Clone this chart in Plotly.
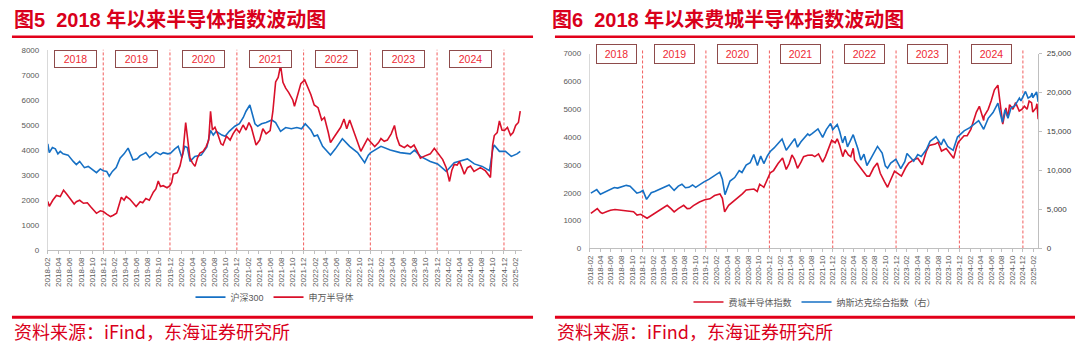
import plotly.graph_objects as go
import datetime as _dt

# ---------------- data ----------------
hs300_dates = ["2018-02-01","2018-02-09","2018-02-26","2018-03-14","2018-03-28","2018-04-10","2018-04-25","2018-05-23","2018-06-20","2018-07-07","2018-07-25","2018-08-03","2018-08-20","2018-09-10","2018-09-28","2018-10-12","2018-10-25","2018-11-15","2018-12-01","2018-12-20","2019-01-03","2019-01-20","2019-02-10","2019-03-03","2019-03-25","2019-04-16","2019-05-13","2019-06-05","2019-06-21","2019-07-10","2019-07-22","2019-08-12","2019-09-15","2019-10-10","2019-10-25","2019-11-20","2019-12-05","2019-12-28","2020-01-15","2020-02-04","2020-02-20","2020-03-05","2020-03-20","2020-04-15","2020-05-20","2020-06-20","2020-07-10","2020-07-25","2020-08-10","2020-09-10","2020-09-28","2020-10-20","2020-11-20","2020-12-15","2021-01-05","2021-01-20","2021-02-10","2021-03-10","2021-03-25","2021-04-15","2021-05-10","2021-06-10","2021-07-01","2021-07-28","2021-08-25","2021-09-25","2021-10-25","2021-11-20","2021-12-10","2022-01-10","2022-01-28","2022-02-15","2022-03-15","2022-04-27","2022-05-24","2022-07-01","2022-08-10","2022-09-22","2022-10-31","2022-11-20","2022-12-03","2023-01-28","2023-03-20","2023-05-13","2023-07-07","2023-07-31","2023-09-01","2023-10-25","2023-12-04","2024-01-20","2024-03-04","2024-05-15","2024-06-22","2024-08-04","2024-09-13","2024-09-30","2024-10-08","2024-11-06","2024-12-09","2025-01-10","2025-02-10","2025-02-28"]
hs300_vals = [4250,3900,4100,4050,3850,3950,3850,3800,3550,3420,3550,3450,3300,3350,3250,3150,3100,3250,3180,3150,2960,3150,3300,3680,3850,4080,3600,3650,3780,3850,3900,3700,3920,3820,3900,3850,3880,4050,4150,3700,4150,4100,3550,3750,3800,4130,4780,4600,4750,4600,4550,4750,4950,5050,5300,5550,5800,5050,4950,5050,5100,5200,5100,4750,4900,4850,4900,4850,5050,4800,4550,4600,4150,3800,4050,4450,4150,3900,3500,3800,3900,4150,4000,3900,3850,4000,3750,3550,3450,3150,3500,3650,3450,3350,3180,4000,4200,3950,3950,3750,3850,3950]

swsemi_dates = ["2018-02-01","2018-02-09","2018-02-28","2018-03-20","2018-04-10","2018-04-28","2018-05-15","2018-06-04","2018-06-25","2018-07-07","2018-07-25","2018-08-15","2018-09-05","2018-09-22","2018-10-12","2018-10-25","2018-11-15","2018-12-01","2018-12-20","2019-01-10","2019-01-25","2019-02-12","2019-02-25","2019-03-10","2019-03-25","2019-04-06","2019-04-25","2019-05-13","2019-05-30","2019-06-21","2019-07-05","2019-07-22","2019-08-10","2019-09-01","2019-09-15","2019-09-28","2019-10-10","2019-10-25","2019-11-15","2019-12-01","2019-12-10","2019-12-19","2020-01-10","2020-01-25","2020-02-10","2020-02-25","2020-03-05","2020-03-19","2020-04-01","2020-04-16","2020-04-30","2020-05-13","2020-05-30","2020-06-16","2020-06-30","2020-07-10","2020-07-20","2020-08-03","2020-08-20","2020-09-05","2020-09-16","2020-10-05","2020-10-25","2020-11-10","2020-11-28","2020-12-15","2021-01-04","2021-01-20","2021-02-05","2021-02-18","2021-03-05","2021-03-16","2021-04-05","2021-04-22","2021-05-10","2021-06-01","2021-06-16","2021-07-01","2021-07-15","2021-07-28","2021-08-10","2021-08-25","2021-09-10","2021-10-03","2021-10-12","2021-10-25","2021-11-16","2021-12-07","2021-12-25","2022-01-10","2022-01-28","2022-02-18","2022-03-10","2022-03-25","2022-04-15","2022-04-27","2022-05-18","2022-06-05","2022-06-22","2022-07-10","2022-07-25","2022-08-10","2022-08-25","2022-09-06","2022-09-25","2022-10-10","2022-10-28","2022-11-16","2022-12-05","2022-12-25","2023-01-15","2023-01-28","2023-02-15","2023-03-04","2023-03-25","2023-04-12","2023-04-25","2023-05-10","2023-06-05","2023-06-22","2023-07-10","2023-07-28","2023-08-15","2023-09-01","2023-09-20","2023-10-10","2023-10-25","2023-11-16","2023-12-05","2024-01-01","2024-01-20","2024-02-07","2024-02-20","2024-03-04","2024-03-20","2024-04-01","2024-04-15","2024-04-28","2024-05-15","2024-06-01","2024-06-20","2024-07-07","2024-07-25","2024-08-22","2024-09-05","2024-09-18","2024-09-30","2024-10-09","2024-10-25","2024-11-06","2024-11-20","2024-12-03","2024-12-20","2025-01-06","2025-01-20","2025-02-03","2025-02-18","2025-02-28"]
swsemi_vals = [1950,1760,2000,2190,2150,2400,2250,2070,1850,1940,2000,1880,1900,1750,1600,1480,1580,1550,1450,1350,1400,1480,1800,2120,2000,2150,2050,1880,1750,1940,1900,2070,2000,2320,2450,2770,2550,2580,2500,2580,2700,3040,3100,3370,3900,5100,4500,3700,3500,3350,3700,3880,3950,4140,4400,5550,4800,4910,4600,4250,4200,4550,4400,4650,4850,4700,5000,4800,5100,4910,4500,4200,4400,4850,4650,4780,5550,6720,6900,7380,6700,6470,6300,6000,5750,6100,6650,6800,6500,6210,5800,5690,5200,5300,4700,4300,4530,4700,4910,5240,4850,5200,4900,4660,4200,3950,4200,4460,4300,4140,4300,4460,4350,4400,4650,4980,4500,4200,4100,4200,4100,4200,3950,3680,3750,3800,3850,4070,3900,3620,3300,2750,3200,3430,3400,3550,3300,3040,3300,3360,3150,3230,3300,3170,3050,2910,4200,4580,4700,5160,4800,4780,4900,4590,4700,4980,5100,5550]

sox_dates = ["2018-02-06","2018-02-20","2018-03-15","2018-04-02","2018-04-13","2018-05-10","2018-05-30","2018-06-25","2018-07-25","2018-08-20","2018-09-22","2018-10-10","2018-10-30","2018-11-20","2018-12-27","2019-01-20","2019-02-25","2019-03-25","2019-04-22","2019-05-15","2019-06-01","2019-06-25","2019-07-26","2019-08-15","2019-08-30","2019-09-20","2019-10-25","2019-11-25","2019-12-24","2020-01-20","2020-02-20","2020-03-05","2020-03-18","2020-04-10","2020-05-05","2020-06-05","2020-06-28","2020-07-20","2020-08-15","2020-09-03","2020-09-22","2020-10-06","2020-10-30","2020-11-20","2020-12-06","2020-12-25","2021-01-20","2021-02-15","2021-03-08","2021-03-25","2021-04-10","2021-04-25","2021-05-12","2021-06-01","2021-06-16","2021-07-10","2021-08-04","2021-08-20","2021-09-10","2021-10-04","2021-10-20","2021-11-25","2021-12-15","2021-12-27","2022-01-10","2022-01-28","2022-02-10","2022-03-01","2022-03-15","2022-03-29","2022-04-06","2022-05-10","2022-05-25","2022-06-16","2022-07-01","2022-07-25","2022-08-15","2022-09-01","2022-09-25","2022-10-13","2022-10-30","2022-11-22","2022-12-10","2023-01-01","2023-01-25","2023-02-12","2023-03-16","2023-04-05","2023-05-01","2023-05-25","2023-06-10","2023-07-15","2023-07-31","2023-08-20","2023-09-16","2023-10-29","2023-11-15","2023-11-25","2023-12-28","2024-01-15","2024-02-05","2024-03-08","2024-03-25","2024-04-19","2024-04-22","2024-05-15","2024-06-01","2024-06-20","2024-07-10","2024-07-25","2024-08-07","2024-08-25","2024-09-06","2024-09-15","2024-10-05","2024-10-20","2024-11-10","2024-11-25","2024-12-10","2024-12-25","2025-01-06","2025-01-20","2025-01-27","2025-02-15","2025-02-20","2025-02-27"]
sox_vals = [1260,1330,1435,1300,1260,1330,1375,1400,1375,1380,1340,1320,1200,1230,1085,1180,1315,1420,1550,1420,1315,1430,1550,1430,1435,1540,1670,1750,1785,1900,1960,1800,1315,1550,1670,1850,1960,2100,2130,2135,2050,2310,2200,2500,2720,2800,3050,3250,2840,3050,3360,3200,2880,3100,3300,3350,3360,3300,3400,3100,3300,3885,3800,3940,3700,3300,3550,3360,3300,3600,3180,2900,2775,2600,2600,2900,3070,2700,2400,2200,2450,2775,2700,2600,2900,3070,3200,3240,3010,3500,3700,3750,3820,3500,3590,3240,3650,3820,4050,4050,4280,4900,5110,4600,4760,5000,5300,5700,5870,5000,4470,5050,4700,5170,5000,5240,4940,5000,5110,5000,5300,5240,4900,5060,5200,4650]

nasdaq_dates = ["2018-02-06","2018-02-25","2018-03-12","2018-04-02","2018-04-20","2018-05-12","2018-06-21","2018-07-10","2018-07-25","2018-08-29","2018-09-20","2018-10-15","2018-10-29","2018-11-19","2018-12-03","2018-12-24","2019-01-20","2019-02-09","2019-03-10","2019-04-05","2019-05-03","2019-06-01","2019-06-25","2019-07-16","2019-08-05","2019-08-25","2019-09-15","2019-10-03","2019-10-25","2019-11-20","2019-12-20","2020-01-20","2020-02-19","2020-03-05","2020-03-20","2020-04-18","2020-05-15","2020-06-10","2020-06-26","2020-07-20","2020-08-12","2020-09-02","2020-09-23","2020-10-12","2020-10-30","2020-11-20","2020-12-06","2020-12-28","2021-01-20","2021-02-12","2021-03-08","2021-03-25","2021-04-26","2021-05-12","2021-06-01","2021-07-10","2021-07-20","2021-08-04","2021-09-07","2021-10-04","2021-10-25","2021-11-19","2021-12-01","2021-12-27","2022-01-10","2022-01-27","2022-02-10","2022-02-24","2022-03-29","2022-04-25","2022-05-12","2022-05-30","2022-06-16","2022-07-10","2022-08-16","2022-09-12","2022-09-30","2022-10-13","2022-10-31","2022-11-30","2022-12-28","2023-01-20","2023-02-02","2023-03-13","2023-04-05","2023-04-25","2023-05-25","2023-06-15","2023-07-19","2023-08-18","2023-09-01","2023-09-26","2023-10-26","2023-11-20","2023-12-28","2024-01-30","2024-02-25","2024-03-21","2024-04-19","2024-05-15","2024-06-12","2024-07-10","2024-07-25","2024-08-05","2024-08-20","2024-09-06","2024-09-24","2024-10-15","2024-11-11","2024-11-20","2024-12-16","2024-12-31","2025-01-15","2025-01-23","2025-01-27","2025-02-18","2025-02-27"]
nasdaq_vals = [7100,7300,7550,6950,7150,7420,7830,7750,7850,8100,8000,7420,7100,7250,7450,6300,7150,7300,7600,7920,8150,7450,8000,8250,7800,7850,8150,7850,8200,8550,8900,9350,9800,8900,6900,8650,9100,10000,9750,10700,11000,12050,10650,11850,10900,11900,12450,12900,13450,14050,12600,13100,14100,13000,13700,14700,14500,14750,15350,14250,15250,16050,15250,15900,15000,13550,14400,13050,14600,12800,11350,12100,10650,11600,13100,12250,10600,10300,10950,11450,10250,11150,12200,11200,12050,11800,12700,13750,14350,13300,14050,13050,12600,14300,15100,15500,16000,16400,15300,16700,17450,18650,17200,16200,17800,16700,18050,18300,19300,18950,20150,19300,19500,19950,19350,20100,18800]

years = [2018, 2019, 2020, 2021, 2022, 2023, 2024]
left_title = "图5  2018 年以来半导体指数波动图"
right_title = "图6  2018 年以来费城半导体指数波动图"
source_text = "资料来源：iFind，东海证券研究所"

# ---------------- styling ----------------
W, H = 1080, 346
BLUE = "#1670c4"
RED = "#d9102a"
TXT_RED = "#d9001b"
RULE_RED = "#e2001a"
GRAY = "#595959"
DASH_RED = "#f25c5c"
BOX_BORDER = "#8e4b4b"
BOX_TEXT = "#ee2a33"
FONT = "Liberation Sans, Arial, Noto Sans CJK SC, sans-serif"
CJK = "Noto Sans CJK SC, sans-serif"

def px_x(p):
    return p / W

def px_y(p):
    return (H - p) / H

L_DOM = [px_x(44), px_x(520)]
L_Y = [px_y(253), px_y(47)]
R_DOM = [px_x(588), px_x(1038)]
R_Y = [px_y(251), px_y(51)]
L_RANGE = ["2018-02-01", "2025-03-10"]
R_RANGE = ["2018-01-31", "2025-02-27"]

fig = go.Figure()
fig.add_trace(go.Scatter(x=hs300_dates, y=hs300_vals, name="沪深300", mode="lines",
                         line=dict(color=BLUE, width=1.6), xaxis="x", yaxis="y", legend="legend"))
fig.add_trace(go.Scatter(x=swsemi_dates, y=swsemi_vals, name="申万半导体", mode="lines",
                         line=dict(color=RED, width=1.6), xaxis="x", yaxis="y", legend="legend"))
fig.add_trace(go.Scatter(x=sox_dates, y=sox_vals, name="费城半导体指数", mode="lines",
                         line=dict(color=RED, width=1.6), xaxis="x2", yaxis="y2", legend="legend2"))
fig.add_trace(go.Scatter(x=nasdaq_dates, y=nasdaq_vals, name="纳斯达克综合指数（右）", mode="lines",
                         line=dict(color=BLUE, width=1.6), xaxis="x2", yaxis="y3", legend="legend2"))

xcommon = dict(type="date", tick0="2018-02-01", dtick="M2", tickformat="%Y-%m", tickangle=-90,
               tickfont=dict(size=8, color=GRAY, family=FONT), showline=True, linecolor="#bfbfbf",
               linewidth=1, ticks="outside", ticklen=3, tickcolor="#bfbfbf", showgrid=False,
               zeroline=False, fixedrange=True)
ycommon = dict(tickfont=dict(size=8, color=GRAY, family=FONT), showline=True, linecolor="#d9d9d9",
               linewidth=1, showgrid=False, zeroline=False, ticks="", ticklabelstandoff=6,
               fixedrange=True)

fig.update_layout(
    width=W, height=H, margin=dict(l=0, r=0, t=0, b=0),
    paper_bgcolor="white", plot_bgcolor="white",
    font=dict(family=FONT, color=GRAY),
    hovermode=False,
    xaxis=dict(domain=L_DOM, anchor="y", range=L_RANGE, **xcommon),
    yaxis=dict(domain=L_Y, anchor="x", range=[0, 8000], dtick=1000, **ycommon),
    xaxis2=dict(domain=R_DOM, anchor="y2", range=R_RANGE, **xcommon),
    yaxis2=dict(domain=R_Y, anchor="x2", range=[0, 7000], dtick=1000, **ycommon),
    yaxis3=dict(overlaying="y2", anchor="x2", side="right", range=[0, 25000], dtick=5000,
                tickformat=",", tickfont=dict(size=8, color="#404040", family=FONT),
                showline=True, linecolor="#bfbfbf", showgrid=False, zeroline=False,
                ticks="outside", ticklen=3, tickcolor="#bfbfbf", ticklabelstandoff=3,
                fixedrange=True),
    legend=dict(x=px_x(272), y=px_y(301), xanchor="center", yanchor="middle", orientation="h",
                font=dict(size=9, color=GRAY, family=FONT), bgcolor="rgba(0,0,0,0)",
                itemwidth=30, tracegroupgap=0),
    legend2=dict(x=px_x(814), y=px_y(306), xanchor="center", yanchor="middle", orientation="h",
                 font=dict(size=9, color=GRAY, family=FONT), bgcolor="rgba(0,0,0,0)",
                 itemwidth=30, tracegroupgap=0),
)

shapes = []
annotations = []

# title / source rules
for x0, x1 in [(8, 531), (553, 1075)]:
    shapes.append(dict(type="line", xref="paper", yref="paper", x0=px_x(x0), x1=px_x(x1),
                       y0=px_y(33.5), y1=px_y(33.5), line=dict(color=RULE_RED, width=2.5)))
    shapes.append(dict(type="line", xref="paper", yref="paper", x0=px_x(x0), x1=px_x(x1),
                       y0=px_y(321.5), y1=px_y(321.5), line=dict(color=RULE_RED, width=3)))

# year separators and year boxes
panels = [("x", L_Y[0], px_y(47), L_RANGE[0], px_y(56), 37, 12),
          ("x2", R_Y[0], px_y(46), R_RANGE[0], px_y(51), 35, 14)]
for xref, yb, yt, start, ybox, bw, bh in panels:
    for yr in years:
        shapes.append(dict(type="line", xref=xref, yref="paper", x0=f"{yr}-12-01", x1=f"{yr}-12-01",
                           y0=yb, y1=yt, layer="below", line=dict(color=DASH_RED, width=1, dash="3px,2px")))
        a = _dt.date.fromisoformat(start) if yr == 2018 else _dt.date(yr - 1, 12, 1)
        b = _dt.date(yr, 12, 1)
        mid = a + (b - a) / 2
        annotations.append(dict(x=mid.isoformat(), xref=xref, y=ybox, yref="paper", text=str(yr),
                                showarrow=False, font=dict(size=10.5, color=BOX_TEXT, family=FONT),
                                bordercolor=BOX_BORDER, borderwidth=1, borderpad=2, bgcolor="white",
                                width=bw, height=bh, xanchor="center", yanchor="middle"))

# titles
for txt, x in [(left_title, 8), (right_title, 548)]:
    annotations.append(dict(x=px_x(x), y=px_y(16.5), xref="paper", yref="paper", xanchor="left",
                            yanchor="middle", showarrow=False, text=f"<b>{txt}</b>",
                            font=dict(size=20, color=TXT_RED, family="Liberation Sans, Noto Sans CJK SC")))
# sources
for x in [8, 553]:
    annotations.append(dict(x=px_x(x), y=px_y(336), xref="paper", yref="paper", xanchor="left",
                            yanchor="middle", showarrow=False, text=source_text,
                            font=dict(size=18, color=TXT_RED, family=CJK)))

fig.update_layout(shapes=shapes, annotations=annotations)
fig.write_html("out.html")
